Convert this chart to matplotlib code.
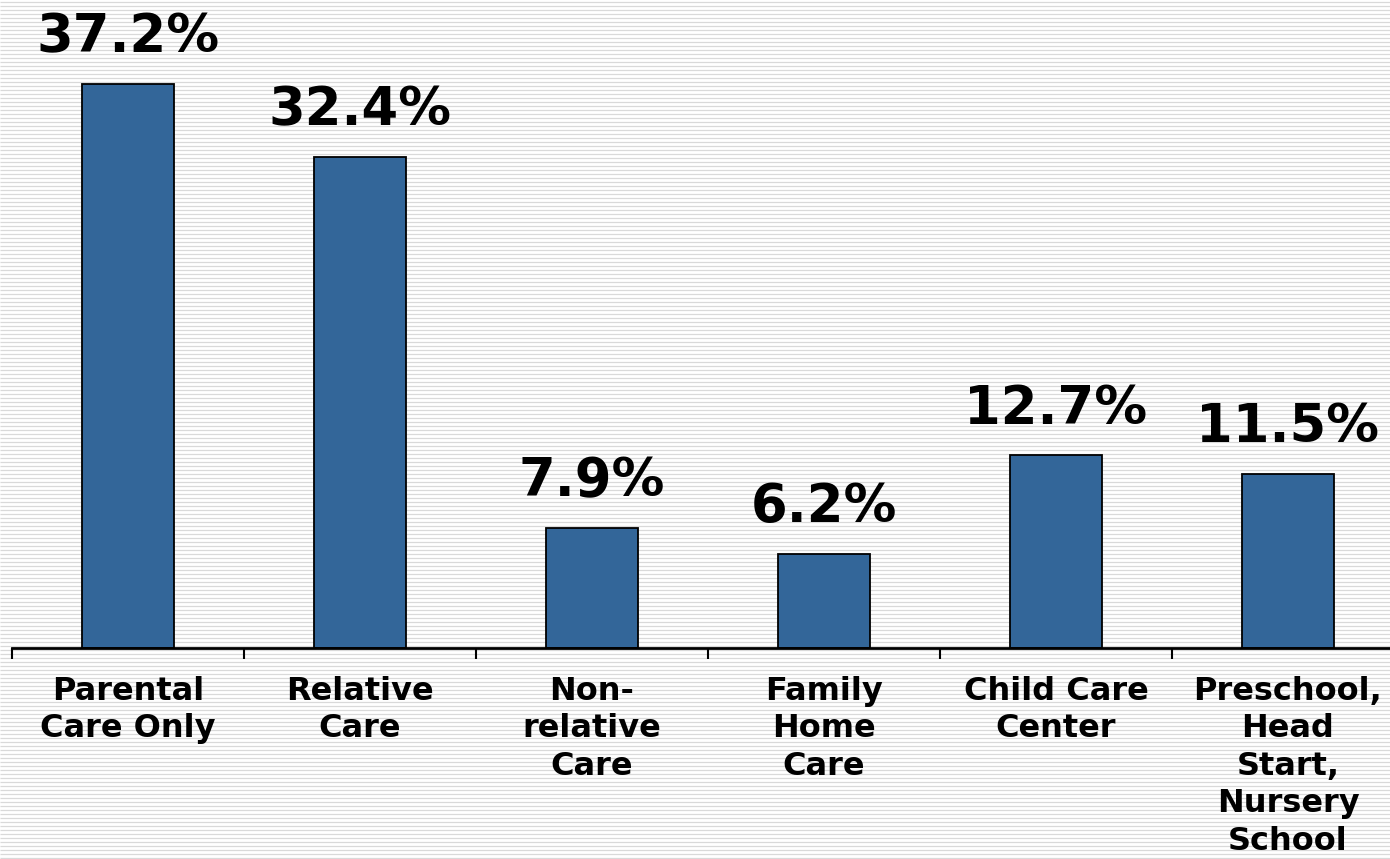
import matplotlib.pyplot as plt
import numpy as np

categories = ['Parental\nCare Only', 'Relative\nCare', 'Non-\nrelative\nCare',
              'Family\nHome\nCare', 'Child Care\nCenter',
              'Preschool,\nHead\nStart,\nNursery\nSchool']
values = [37.2, 32.4, 7.9, 6.2, 12.7, 11.5]
value_labels = ['37.2%', '32.4%', '7.9%', '6.2%', '12.7%', '11.5%']

W, H = 1390, 859
fig = plt.figure(figsize=(W / 100, H / 100), dpi=100)
fig.patch.set_facecolor('white')

# striped background
bg = fig.add_axes([0, 0, 1, 1], zorder=0)
bg.set_xlim(0, W)
bg.set_ylim(H, 0)
bg.hlines(np.arange(1.5, H, 4), 0, W, color='#d9d9d9', lw=0.9)
bg.axis('off')

left = 12 / W
base = 648
top = base - 40 * (564 / 37.2)
ax = fig.add_axes([left, 1 - base / H, 1392 / W, (base - top) / H], zorder=1)
ax.patch.set_alpha(0)

x = np.arange(len(values))
ax.bar(x, values, width=0.4, color='#336699', edgecolor='black', linewidth=1.3)
for xi, v, lab in zip(x, values, value_labels):
    ax.annotate(lab, (xi, v), xytext=(0, 23), textcoords='offset points',
                ha='center', va='baseline', fontsize=38, fontweight='bold',
                annotation_clip=False)

ax.set_xlim(-0.5, len(values) - 0.5)
ax.set_ylim(0, 40)
ax.set_xticks(x)
ax.set_xticklabels(categories, fontsize=23, fontweight='bold', linespacing=1.27)
ax.tick_params(axis='x', which='major', length=0, pad=20)
ax.set_xticks(np.arange(-0.5, len(values)), minor=True)
ax.tick_params(axis='x', which='minor', length=8, width=1.5, color='black')
ax.set_yticks([])
for s in ['top', 'right', 'left']:
    ax.spines[s].set_visible(False)
ax.spines['bottom'].set_linewidth(2)

fig.savefig('out.png', dpi=100)
